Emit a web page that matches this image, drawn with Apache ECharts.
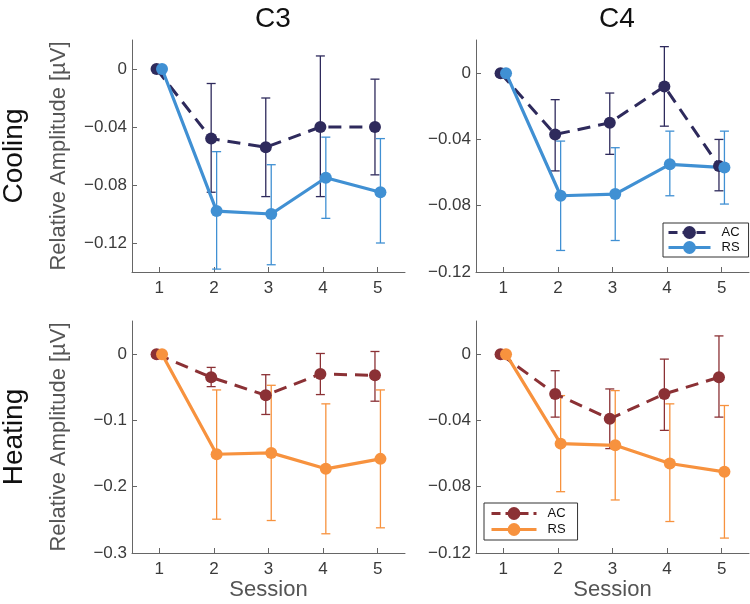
<!DOCTYPE html>
<html>
<head>
<meta charset="utf-8">
<script src="https://cdn.jsdelivr.net/npm/echarts@6/dist/echarts.min.js"></script>
<style>
html,body{margin:0;padding:0;background:#fff;}
#chart{width:750px;height:604px;}
</style>
</head>
<body>
<div id="chart"></div>
<script>
// ---- data ----
const sessions = [1, 2, 3, 4, 5];
const columnTitles = ['C3', 'C4'];
const rowTitles = ['Cooling', 'Heating'];
const seriesNames = ['AC', 'RS'];

// Cooling, C3
const c3CoolAC     = [0, -0.048, -0.054, -0.040, -0.040];
const c3CoolACLow  = [0, -0.085, -0.088, -0.088, -0.073];
const c3CoolACHigh = [0, -0.010, -0.020,  0.009, -0.007];
const c3CoolRS     = [0, -0.098, -0.100, -0.075, -0.085];
const c3CoolRSLow  = [0, -0.138, -0.135, -0.103, -0.120];
const c3CoolRSHigh = [0, -0.057, -0.066, -0.047, -0.048];

// Cooling, C4
const c4CoolAC     = [0, -0.037, -0.030, -0.008, -0.056];
const c4CoolACLow  = [0, -0.059, -0.049, -0.032, -0.071];
const c4CoolACHigh = [0, -0.016, -0.012,  0.016, -0.040];
const c4CoolRS     = [0, -0.074, -0.073, -0.055, -0.057];
const c4CoolRSLow  = [0, -0.107, -0.101, -0.074, -0.079];
const c4CoolRSHigh = [0, -0.041, -0.045, -0.035, -0.035];

// Heating, C3
const c3HeatAC     = [0, -0.035, -0.062, -0.030, -0.032];
const c3HeatACLow  = [0, -0.049, -0.091, -0.061, -0.071];
const c3HeatACHigh = [0, -0.020, -0.031,  0.001,  0.004];
const c3HeatRS     = [0, -0.151, -0.149, -0.173, -0.158];
const c3HeatRSLow  = [0, -0.249, -0.251, -0.271, -0.262];
const c3HeatRSHigh = [0, -0.054, -0.047, -0.075, -0.054];

// Heating, C4
const c4HeatAC     = [0, -0.024, -0.039, -0.024, -0.014];
const c4HeatACLow  = [0, -0.038, -0.057, -0.046, -0.038];
const c4HeatACHigh = [0, -0.010, -0.021, -0.003,  0.011];
const c4HeatRS     = [0, -0.054, -0.055, -0.066, -0.071];
const c4HeatRSLow  = [0, -0.083, -0.088, -0.101, -0.111];
const c4HeatRSHigh = [0, -0.025, -0.022, -0.030, -0.031];

// tick labels
const xTicks = [1, 2, 3, 4, 5];
const yTicksCoolC3 = [0, -0.04, -0.08, -0.12];
const yTicksCoolC4 = [0, -0.04, -0.08, -0.12];
const yTicksHeatC3 = [0, -0.1, -0.2, -0.3];
const yTicksHeatC4 = [0, -0.04, -0.08, -0.12];

// ---- styling ----
const FONT = '"Liberation Sans", Arial, Helvetica, sans-serif';
const colors = {
  coolAC: '#2e2a5c', coolRS: '#4090d3',
  heatAC: '#8b3135', heatRS: '#f7923e'
};
const axisColor = '#666';
const textColor = '#3a3a3a';

const panels = [
  {grid: {left: 132, top: 40, width: 273, height: 232}, ymin: -0.14, ymax: 0.02, yTicks: yTicksCoolC3,
   ac: [c3CoolAC, c3CoolACLow, c3CoolACHigh], rs: [c3CoolRS, c3CoolRSLow, c3CoolRSHigh],
   cAC: colors.coolAC, cRS: colors.coolRS, nameAC: 'AC', nameRS: 'RS', yName: 'Relative Amplitude [µV]', xName: ''},
  {grid: {left: 476, top: 40, width: 273, height: 232}, ymin: -0.12, ymax: 0.02, yTicks: yTicksCoolC4,
   ac: [c4CoolAC, c4CoolACLow, c4CoolACHigh], rs: [c4CoolRS, c4CoolRSLow, c4CoolRSHigh],
   cAC: colors.coolAC, cRS: colors.coolRS, nameAC: 'AC', nameRS: 'RS', yName: '', xName: ''},
  {grid: {left: 132, top: 321, width: 273, height: 232}, ymin: -0.3, ymax: 0.05, yTicks: yTicksHeatC3,
   ac: [c3HeatAC, c3HeatACLow, c3HeatACHigh], rs: [c3HeatRS, c3HeatRSLow, c3HeatRSHigh],
   cAC: colors.heatAC, cRS: colors.heatRS, nameAC: 'AC ', nameRS: 'RS ', yName: 'Relative Amplitude [µV]', xName: 'Session'},
  {grid: {left: 476, top: 321, width: 273, height: 232}, ymin: -0.12, ymax: 0.02, yTicks: yTicksHeatC4,
   ac: [c4HeatAC, c4HeatACLow, c4HeatACHigh], rs: [c4HeatRS, c4HeatRSLow, c4HeatRSHigh],
   cAC: colors.heatAC, cRS: colors.heatRS, nameAC: 'AC ', nameRS: 'RS ', yName: '', xName: 'Session'}
];

const OFF_AC = -0.05, OFF_RS = 0.05;

function fmtY(v) {
  if (Math.abs(v) < 1e-12) return '0';
  return (v < 0 ? '\u2212' : '') + String(Math.abs(v));
}

function errRenderer(color) {
  return function (params, api) {
    const x = api.value(0), lo = api.value(1), hi = api.value(2);
    if (lo === hi) return null;
    const a = api.coord([x, lo]), b = api.coord([x, hi]);
    const w = 4.5;
    const style = {stroke: color, lineWidth: 1.3, fill: null};
    return {type: 'group', children: [
      {type: 'line', shape: {x1: a[0], y1: a[1], x2: b[0], y2: b[1]}, style: style},
      {type: 'line', shape: {x1: a[0] - w, y1: a[1], x2: a[0] + w, y2: a[1]}, style: style},
      {type: 'line', shape: {x1: b[0] - w, y1: b[1], x2: b[0] + w, y2: b[1]}, style: style}
    ]};
  };
}

const grids = [], xAxes = [], yAxes = [], series = [];
panels.forEach((p, i) => {
  grids.push(Object.assign({containLabel: false}, p.grid));
  xAxes.push({
    type: 'value', gridIndex: i, min: 0.5, max: 5.5,
    name: p.xName, nameLocation: 'middle', nameGap: 25,
    nameTextStyle: {fontFamily: FONT, fontSize: 22, color: '#555'},
    axisLine: {onZero: false, lineStyle: {color: axisColor, width: 1}},
    axisTick: {inside: true, length: 5, customValues: xTicks, lineStyle: {color: axisColor}},
    axisLabel: {customValues: xTicks, fontFamily: FONT, fontSize: 17, color: textColor, margin: 8},
    splitLine: {show: false}
  });
  yAxes.push({
    type: 'value', gridIndex: i, min: p.ymin, max: p.ymax,
    name: p.yName, nameLocation: 'middle', nameGap: 62,
    nameTextStyle: {fontFamily: FONT, fontSize: 22, color: '#555'},
    axisLine: {onZero: false, lineStyle: {color: axisColor, width: 1}},
    axisTick: {inside: true, length: 5, customValues: p.yTicks, lineStyle: {color: axisColor}},
    axisLabel: {customValues: p.yTicks, fontFamily: FONT, fontSize: 17, color: textColor, margin: 5, formatter: fmtY},
    splitLine: {show: false}
  });
  const acErr = sessions.map((s, k) => [s + OFF_AC, p.ac[1][k], p.ac[2][k]]);
  const rsErr = sessions.map((s, k) => [s + OFF_RS, p.rs[1][k], p.rs[2][k]]);
  series.push({
    type: 'custom', name: 'errAC' + i, xAxisIndex: i, yAxisIndex: i,
    renderItem: errRenderer(p.cAC), data: acErr, silent: true, clip: false,
    encode: {x: 0, y: [1, 2]}
  });
  series.push({
    type: 'line', name: p.nameAC, xAxisIndex: i, yAxisIndex: i,
    data: sessions.map((s, k) => [s + OFF_AC, p.ac[0][k]]),
    symbol: 'circle', symbolSize: 12, showAllSymbol: true,
    lineStyle: {color: p.cAC, width: 3, type: [13, 8]},
    itemStyle: {color: p.cAC}, animation: false
  });
  series.push({
    type: 'custom', name: 'errRS' + i, xAxisIndex: i, yAxisIndex: i,
    renderItem: errRenderer(p.cRS), data: rsErr, silent: true, clip: false,
    encode: {x: 0, y: [1, 2]}
  });
  series.push({
    type: 'line', name: p.nameRS, xAxisIndex: i, yAxisIndex: i,
    data: sessions.map((s, k) => [s + OFF_RS, p.rs[0][k]]),
    symbol: 'circle', symbolSize: 12, showAllSymbol: true,
    lineStyle: {color: p.cRS, width: 3.2},
    itemStyle: {color: p.cRS}, animation: false
  });
});

const legendCommon = {
  orient: 'vertical', backgroundColor: '#fff', borderColor: '#333', borderWidth: 1, borderRadius: 0,
  itemHeight: 16, selectedMode: false,
  textStyle: {fontFamily: FONT, fontSize: 13, color: '#111', padding: [0, 0, 0, 6]},
  formatter: n => n.trim()
};

const option = {
  animation: false,
  backgroundColor: '#fff',
  title: [
    {text: columnTitles[0], left: 268, top: 0, textAlign: 'center', textStyle: {fontFamily: FONT, fontSize: 28, fontWeight: 'normal', color: '#111'}},
    {text: columnTitles[1], left: 612, top: 0, textAlign: 'center', textStyle: {fontFamily: FONT, fontSize: 28, fontWeight: 'normal', color: '#111'}}
  ],
  graphic: [
    {type: 'text', x: 14, y: 156, rotation: Math.PI / 2, style: {text: rowTitles[0], font: '28px ' + FONT, fill: '#111', align: 'center', verticalAlign: 'middle'}},
    {type: 'text', x: 14, y: 437, rotation: Math.PI / 2, style: {text: rowTitles[1], font: '28px ' + FONT, fill: '#111', align: 'center', verticalAlign: 'middle'}}
  ],
  legend: [
    Object.assign({}, legendCommon, {
      left: 663, top: 223, padding: [3, 9, 3, 4], itemWidth: 42, itemGap: 2,
      data: [
        {name: 'AC', lineStyle: {type: [9, 5], width: 3}},
        {name: 'RS', lineStyle: {width: 3}}
      ]
    }),
    Object.assign({}, legendCommon, {
      left: 484, top: 503, padding: [4, 12, 4, 6], itemWidth: 45, itemGap: 3,
      data: [
        {name: 'AC ', lineStyle: {type: [9, 5], width: 3}},
        {name: 'RS ', lineStyle: {width: 3}}
      ]
    })
  ],
  grid: grids,
  xAxis: xAxes,
  yAxis: yAxes,
  series: series
};

const chart = echarts.init(document.getElementById('chart'), null, {renderer: 'canvas'});
chart.setOption(option);
</script>
</body>
</html>
